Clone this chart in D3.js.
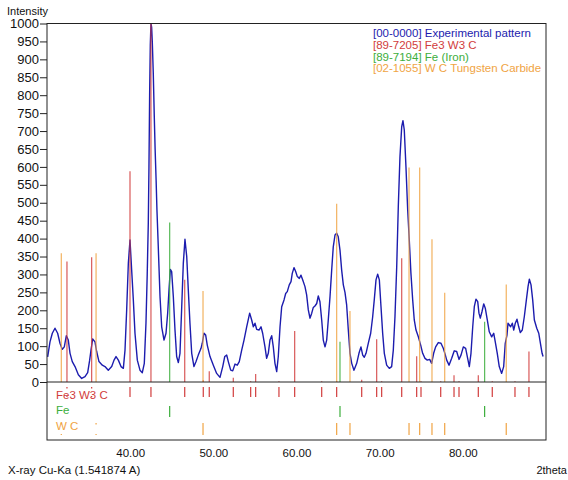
<!DOCTYPE html>
<html>
<head>
<meta charset="utf-8">
<script src="https://cdn.jsdelivr.net/npm/d3@7"></script>
<style>
body{margin:0;background:#fff;}
text{font-family:"Liberation Sans",Arial,sans-serif;}
</style>
</head>
<body>
<div id="chart"></div>
<script>
// experimental pattern, [2theta, intensity]
var pattern = [
 [30.08,70],[30.36,112],[30.64,136],[30.96,150],[31.28,136],[31.56,108],[31.84,91],[32.08,98],
 [32.32,129],[32.56,117],[32.77,80],[33.04,57],[33.37,43],[33.77,20],[34.17,10],[34.57,15],
 [34.89,26],[35.13,61],[35.29,89],[35.49,120],[35.77,112],[35.97,85],[36.25,57],[36.65,47],
 [36.97,43],[37.37,33],[37.78,43],[38.06,61],[38.30,71],[38.58,61],[38.90,43],[39.18,38],
 [39.38,89],[39.58,201],[39.78,331],[39.98,396],[40.18,312],[40.38,229],[40.58,136],[40.86,61],
 [41.18,33],[41.46,26],[41.70,52],[41.90,164],[42.05,300],[42.18,443],[42.26,600],[42.34,800],
 [42.42,940],[42.50,1000],[42.58,990],[42.66,950],[42.78,860],[42.90,740],[43.00,650],[43.12,563],
 [43.22,480],[43.38,377],[43.59,238],[43.79,154],[44.07,117],[44.31,136],[44.51,192],[44.67,257],
 [44.83,314],[44.99,308],[45.19,238],[45.39,145],[45.59,71],[45.79,54],[45.99,80],[46.20,210],
 [46.39,331],[46.59,398],[46.80,350],[46.99,257],[47.19,164],[47.40,80],[47.67,43],[47.92,57],
 [48.19,75],[48.52,94],[48.67,108],[48.88,136],[49.08,131],[49.27,103],[49.60,71],[50.00,47],
 [50.40,24],[50.80,13],[51.13,43],[51.37,71],[51.61,75],[51.80,57],[52.09,33],[52.33,31],
 [52.61,50],[52.88,47],[53.12,57],[53.41,89],[53.69,117],[54.01,154],[54.37,192],[54.61,173],
 [54.81,154],[55.01,164],[55.21,147],[55.49,145],[55.73,154],[55.93,136],[56.21,98],[56.41,66],
 [56.61,80],[56.81,117],[57.02,129],[57.21,98],[57.41,52],[57.62,29],[57.81,71],[58.02,154],
 [58.22,210],[58.50,229],[58.70,247],[58.89,252],[59.13,271],[59.34,280],[59.49,303],[59.70,319],
 [59.90,308],[60.10,294],[60.34,289],[60.54,298],[60.74,285],[61.02,266],[61.22,243],[61.42,201],
 [61.62,178],[61.83,192],[62.02,208],[62.22,212],[62.43,219],[62.62,240],[62.82,224],[63.03,173],
 [63.22,117],[63.43,98],[63.63,117],[63.82,173],[64.03,238],[64.23,312],[64.42,377],[64.63,410],
 [64.83,415],[65.02,405],[65.23,368],[65.43,312],[65.63,271],[65.83,250],[66.03,215],[66.23,145],
 [66.43,80],[66.64,52],[66.91,33],[67.24,52],[67.51,80],[67.75,98],[67.96,75],[68.15,69],
 [68.36,80],[68.63,108],[68.92,136],[69.16,182],[69.35,229],[69.56,285],[69.76,301],[69.96,285],
 [70.16,210],[70.36,136],[70.56,80],[70.84,47],[71.16,38],[71.44,43],[71.64,89],[71.84,182],
 [72.05,322],[72.24,489],[72.44,628],[72.65,712],[72.80,729],[72.96,703],[73.16,601],[73.37,480],
 [73.56,396],[73.76,303],[73.97,229],[74.16,173],[74.37,145],[74.65,126],[74.93,103],[75.17,80],
 [75.45,66],[75.73,61],[76.01,63],[76.25,52],[76.49,80],[76.73,98],[77.05,110],[77.37,108],
 [77.65,94],[77.90,75],[78.06,61],[78.34,47],[78.66,66],[78.97,87],[79.26,85],[79.54,63],
 [79.78,75],[80.06,98],[80.34,94],[80.58,66],[80.78,43],[80.98,80],[81.19,154],[81.38,210],
 [81.58,231],[81.79,224],[81.94,192],[82.10,178],[82.30,196],[82.51,218],[82.70,206],[82.94,173],
 [83.18,140],[83.47,126],[83.71,136],[83.90,112],[84.14,80],[84.38,43],[84.67,24],[84.91,43],
 [85.10,108],[85.31,131],[85.43,164],[85.59,159],[85.75,154],[85.95,164],[86.12,145],[86.31,164],
 [86.51,175],[86.72,154],[86.91,138],[87.15,145],[87.39,182],[87.64,229],[87.84,266],[88.00,287],
 [88.20,271],[88.40,229],[88.60,173],[88.89,150],[89.13,136],[89.33,108],[89.53,80],[89.65,71]
];

// reference patterns
var fe3w3cPos = [32.40,35.37,39.98,42.50,46.56,48.79,49.51,52.40,54.49,55.09,57.89,59.78,63.03,64.83,
                 67.84,69.64,70.24,72.65,74.45,74.97,77.34,78.94,79.54,81.86,83.54,86.27,87.95];
var fe3w3cInt = [336,348,588,1000,285,5,30,12,2,22,2,142,2,2,6,119,2,345,72,2,2,19,2,19,2,2,85];
var fePos = [44.75,65.23,82.62];
var feInt = [445,112,168];
var wcPos = [31.72,35.90,48.76,64.83,66.43,73.53,74.81,76.29,77.82,85.22];
var wcInt = [359,359,254,497,198,598,598,398,249,272];

var yTicks = d3.range(0, 1001, 50);
var xTicks = [40, 50, 60, 70, 80];
var legendLabels = ["[00-0000] Experimental pattern", "[89-7205] Fe3 W3 C",
                    "[89-7194] Fe  (Iron)", "[02-1055] W C Tungsten Carbide"];
var rowLabels = ["Fe3 W3 C", "Fe", "W C"];

var colBlue = "#1c1cae", colRed = "#d13c3c", colGreen = "#3cae3c", colOrange = "#f0a444";

var width = 568, height = 480;
var x = d3.scaleLinear().domain([30, 90]).range([47, 546]);
var y = d3.scaleLinear().domain([0, 1000]).range([382, 23.5]);

var svg = d3.select("#chart").append("svg")
    .attr("width", width)
    .attr("height", height);

svg.append("clipPath").attr("id", "plotclip")
  .append("rect").attr("x", 47).attr("y", 23).attr("width", 499).attr("height", 360);

var phases = [
  {name: rowLabels[0], color: colRed, pos: fe3w3cPos, val: fe3w3cInt, row: [387, 397], ty: 399},
  {name: rowLabels[1], color: colGreen, pos: fePos, val: feInt, row: [406, 417], ty: 414},
  {name: rowLabels[2], color: colOrange, pos: wcPos, val: wcInt, row: [423, 435], ty: 430}
];

// experimental line
var line = d3.line().x(d => x(d[0])).y(d => y(d[1]));
svg.append("path").datum(pattern)
    .attr("clip-path", "url(#plotclip)")
    .attr("fill", "none")
    .attr("stroke", colBlue)
    .attr("stroke-width", 1.4)
    .attr("stroke-linejoin", "round")
    .attr("d", line);

// stick patterns + rows
phases.forEach(function(p){
  var data = p.pos.map((v, i) => [v, p.val[i]]);
  svg.append("g").selectAll("line").data(data).enter().append("line")
      .attr("x1", d => x(d[0])).attr("x2", d => x(d[0]))
      .attr("y1", y(0)).attr("y2", d => y(d[1]))
      .attr("stroke", p.color).attr("stroke-opacity", 0.85)
      .attr("stroke-width", 1.2);
  svg.append("g").selectAll("line").data(data).enter().append("line")
      .attr("x1", d => x(d[0])).attr("x2", d => x(d[0]))
      .attr("y1", p.row[0]).attr("y2", p.row[1])
      .attr("stroke", p.color).attr("stroke-width", 1.2);
  svg.append("rect")
      .attr("x", 50).attr("y", p.row[0] + 1.5)
      .attr("width", 60).attr("height", p.row[1] - p.row[0] - 2.5)
      .attr("fill", "#fff");
  svg.append("text").text(p.name)
      .attr("x", 56).attr("y", p.ty)
      .attr("fill", p.color).attr("font-size", "11.5px");
});

// frame
svg.append("rect").attr("x", 47).attr("y", 23.5).attr("width", 499).attr("height", 416.5)
    .attr("fill", "none").attr("stroke", "#222").attr("stroke-width", 1);
svg.append("line").attr("x1", 47).attr("x2", 546).attr("y1", y(0)).attr("y2", y(0))
    .attr("stroke", "#222").attr("stroke-width", 1);

// y axis
var yAxis = svg.append("g").attr("transform", "translate(47,0)")
    .call(d3.axisLeft(y).tickValues(yTicks).tickSize(7).tickPadding(1).tickFormat(d3.format("d")));
yAxis.select(".domain").remove();
yAxis.selectAll("line").attr("stroke", "#222");
yAxis.selectAll("text").attr("font-size", "13px").attr("fill", "#111")
    .attr("font-family", "'Liberation Sans',Arial,sans-serif");

// x axis
var xAxis = svg.append("g").attr("transform", "translate(0,440)")
    .call(d3.axisBottom(x).tickValues(xTicks).tickSize(0).tickPadding(9).tickFormat(d3.format(".2f")));
xAxis.select(".domain").remove();
xAxis.selectAll("text").attr("font-size", "11.5px").attr("fill", "#111")
    .attr("font-family", "'Liberation Sans',Arial,sans-serif");

// labels
svg.append("text").text("Intensity").attr("x", 7).attr("y", 15)
    .attr("font-size", "11px").attr("fill", "#111");
svg.append("text").text("X-ray Cu-Ka (1.541874 A)").attr("x", 8).attr("y", 474)
    .attr("font-size", "11.5px").attr("fill", "#111");
svg.append("text").text("2theta").attr("x", 567).attr("y", 474).attr("text-anchor", "end")
    .attr("font-size", "11px").attr("fill", "#111");

// legend
var legendColors = [colBlue, colRed, colGreen, colOrange];
svg.append("g").selectAll("text").data(legendLabels).enter().append("text")
    .text(d => d)
    .attr("x", 373).attr("y", (d, i) => 37 + i * 11.8)
    .attr("font-size", "11.5px")
    .attr("fill", (d, i) => legendColors[i]);
</script>
</body>
</html>
